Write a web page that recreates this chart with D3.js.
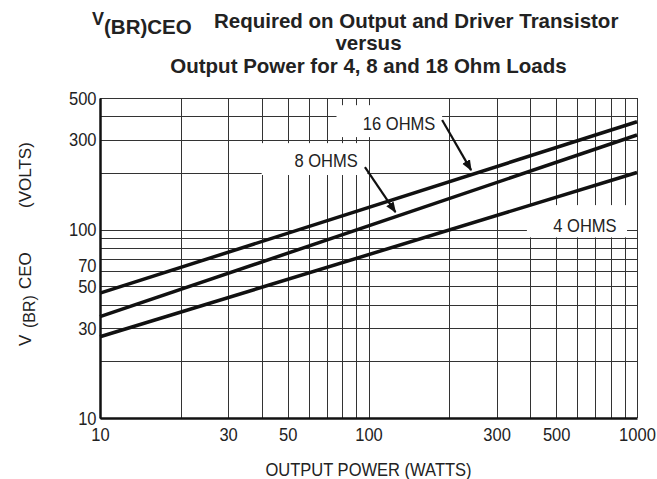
<!DOCTYPE html>
<html>
<head>
<meta charset="utf-8">
<script src="https://cdn.jsdelivr.net/npm/d3@7"></script>
<style>
  body { margin: 0; background: #fff; }
  svg { display: block; }
</style>
</head>
<body>
<div id="chart"></div>
<script>
// data (watts -> volts), straight lines on log-log
const powerEnds = [10, 1000];
const volts16 = [46, 374];
const volts8 = [34.5, 318];
const volts4 = [27, 201];
const xTicks = [10, 30, 50, 100, 300, 500, 1000];
const yTicks = [10, 30, 50, 70, 100, 300, 500];

// load labels: text, anchor point and white box (watts, volts)
const labelNames = ["16 OHMS", "8 OHMS", "4 OHMS"];
const labelAt = [[130, 338], [69.5, 215], [640, 97]];
const labelBox = [[76, 188, 458, 310], [40, 99, 288, 195], [389, 918, 135, 91]];
// arrows: [from, to] (watts, volts)
const arrows = [[[188, 382], [241, 207]], [[97, 215], [126, 124]]];

const width = 657, height = 479;
const margin = { top: 98, right: 20, bottom: 61, left: 100 };
const font = "'Liberation Sans', Arial, sans-serif";
const narrow = 0.87; // the original uses a condensed face

const svg = d3.select("#chart").append("svg")
  .attr("width", width)
  .attr("height", height);

const x = d3.scaleLog().domain([10, 1000]).range([margin.left, width - margin.right]);
const y = d3.scaleLog().domain([10, 500]).range([height - margin.bottom, margin.top]);
const midX = (x.range()[0] + x.range()[1]) / 2;

// grid
const grid = svg.append("g").attr("stroke", "#333").attr("stroke-width", 1);
grid.selectAll("line.v")
  .data(x.ticks())
  .enter().append("line")
  .attr("class", "v")
  .attr("x1", d => Math.round(x(d)) + 0.5).attr("x2", d => Math.round(x(d)) + 0.5)
  .attr("y1", y(500)).attr("y2", y(10));
grid.selectAll("line.h")
  .data(y.ticks())
  .enter().append("line")
  .attr("class", "h")
  .attr("y1", d => Math.round(y(d)) + 0.5).attr("y2", d => Math.round(y(d)) + 0.5)
  .attr("x1", x(10)).attr("x2", x(1000));

// white boxes behind labels
svg.selectAll("rect.box")
  .data(labelBox)
  .enter().append("rect")
  .attr("class", "box")
  .attr("x", d => x(d[0]))
  .attr("width", d => x(d[1]) - x(d[0]))
  .attr("y", d => y(d[2]))
  .attr("height", d => y(d[3]) - y(d[2]))
  .attr("fill", "#fff");

// curves
const line = d3.line().x(d => x(d[0])).y(d => y(d[1]));
[volts16, volts8, volts4].forEach(v => {
  svg.append("path")
    .datum(powerEnds.map((p, i) => [p, v[i]]))
    .attr("d", line)
    .attr("fill", "none")
    .attr("stroke", "#111")
    .attr("stroke-width", 3.5);
});

// labels
svg.selectAll("text.load")
  .data(labelNames)
  .enter().append("text")
  .attr("class", "load")
  .attr("transform", (d, i) => `translate(${x(labelAt[i][0])},${y(labelAt[i][1])}) scale(${narrow},1)`)
  .attr("text-anchor", "middle")
  .attr("font-family", font)
  .attr("font-size", 19)
  .attr("fill", "#222")
  .text(d => d);

// arrows
svg.append("defs").append("marker")
  .attr("id", "head")
  .attr("viewBox", "0 0 10 10")
  .attr("refX", 9).attr("refY", 5)
  .attr("markerWidth", 5).attr("markerHeight", 5)
  .attr("markerUnits", "strokeWidth")
  .attr("orient", "auto")
  .append("path")
  .attr("d", "M0,1L10,5L0,9Z")
  .attr("fill", "#111");

svg.selectAll("line.arrow")
  .data(arrows)
  .enter().append("line")
  .attr("class", "arrow")
  .attr("x1", d => x(d[0][0])).attr("y1", d => y(d[0][1]))
  .attr("x2", d => x(d[1][0])).attr("y2", d => y(d[1][1]))
  .attr("stroke", "#111")
  .attr("stroke-width", 2.2)
  .attr("marker-end", "url(#head)");

// axes
const xAxis = svg.append("g")
  .attr("transform", `translate(0,${y(10)})`)
  .call(d3.axisBottom(x).tickValues(xTicks).tickFormat(d3.format("d")).tickSize(0).tickPadding(10));
const yAxis = svg.append("g")
  .attr("transform", `translate(${x(10)},0)`)
  .call(d3.axisLeft(y).tickValues(yTicks).tickFormat(d3.format("d")).tickSize(0).tickPadding(4));

[xAxis, yAxis].forEach(a => {
  a.select(".domain").attr("stroke", "#111").attr("stroke-width", 2.5);
  a.selectAll("text")
    .attr("font-family", font)
    .attr("font-size", 19)
    .attr("fill", "#222")
    .attr("transform", `scale(${narrow},1)`);
});
// the original sets "70" a little lower, clear of the 60 line
yAxis.selectAll(".tick text").filter(d => d === 70).attr("dy", "0.68em");

// axis titles
svg.append("text")
  .attr("transform", `translate(${midX},476) scale(${narrow},1)`)
  .attr("text-anchor", "middle")
  .attr("font-family", font)
  .attr("font-size", 19)
  .attr("fill", "#222")
  .text("OUTPUT POWER (WATTS)");

const yt = svg.append("text")
  .attr("transform", "translate(31,0) rotate(-90)")
  .attr("font-family", font)
  .attr("font-size", 17)
  .attr("fill", "#222");
yt.append("tspan").attr("x", -346).text("V");
yt.append("tspan").attr("x", -328).attr("dy", 4).attr("font-size", 16).text("(BR)");
yt.append("tspan").attr("x", -289).attr("dy", -4).text("CEO");
yt.append("tspan").attr("x", -208).text("(VOLTS)");

// chart title
const title = svg.append("g")
  .attr("font-family", font)
  .attr("font-weight", "bold")
  .attr("fill", "#222");
title.append("text").attr("x", 92).attr("y", 25).attr("font-size", 18).text("V");
title.append("text").attr("x", 104).attr("y", 34).attr("font-size", 20.5).text("(BR)CEO");
title.append("text").attr("x", 214).attr("y", 28).attr("font-size", 20.5).text("Required on Output and Driver Transistor");
title.append("text").attr("x", midX).attr("y", 50).attr("font-size", 20.5).attr("text-anchor", "middle").text("versus");
title.append("text").attr("x", midX).attr("y", 73).attr("font-size", 20.5).attr("text-anchor", "middle").text("Output Power for 4, 8 and 18 Ohm Loads");
</script>
</body>
</html>
